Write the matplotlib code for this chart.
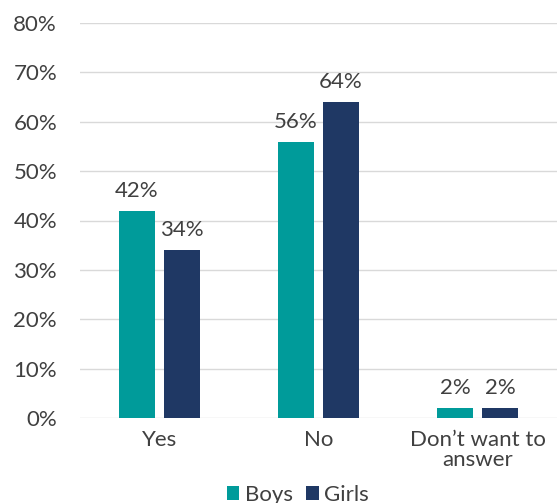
import matplotlib
matplotlib.use("Agg")
import matplotlib.pyplot as plt
import numpy as np

categories = ["Yes", "No", "Don\u2019t want to\nanswer"]
boys = [42, 56, 2]
girls = [34, 64, 2]
series_names = ["Boys", "Girls"]
yticks = [0, 10, 20, 30, 40, 50, 60, 70, 80]

teal = "#009B9A"
navy = "#1F3864"
txt = "#404040"
fs = 16

plt.rcParams['font.family'] = ['Lato', 'DejaVu Sans']

fig = plt.figure(figsize=(5.57, 5.03), dpi=100)
ax = fig.add_axes([80/557, 1-418/503, 1-80/557, (418-23)/503])

x = np.arange(len(categories))
w = 0.225
off = 0.142
b1 = ax.bar(x - off, boys, w, color=teal, label=series_names[0], zorder=3)
b2 = ax.bar(x + off, girls, w, color=navy, label=series_names[1], zorder=3)

for bars, vals in ((b1, boys), (b2, girls)):
    for r, v in zip(bars, vals):
        ax.text(r.get_x() + r.get_width()/2, v + 2.0, f"{v}%", ha="center", va="bottom",
                fontsize=fs, color=txt)

ax.set_xlim(-0.5, 2.5)
ax.set_ylim(0, 80)
ax.set_yticks(yticks)
ax.set_yticklabels([f"{t}%" for t in yticks], fontsize=fs, color=txt)
ax.set_xticks(x)
ax.set_xticklabels(categories, fontsize=fs, color=txt, linespacing=0.95)
ax.tick_params(length=0)
ax.tick_params(axis='x', pad=9)
ax.tick_params(axis='y', pad=16.5)
for s in ax.spines.values():
    s.set_visible(False)
ax.grid(axis='y', color="#D9D9D9", linewidth=1, zorder=0)
ax.set_axisbelow(True)

leg = fig.legend(handles=[b1, b2], labels=series_names, loc="center",
                 bbox_to_anchor=(298/557, 1-495/503), ncol=2, frameon=False, fontsize=fs,
                 handlelength=0.55, handleheight=0.55, handletextpad=0.25, columnspacing=0.6)
for t in leg.get_texts():
    t.set_color(txt)

fig.savefig("out.png", dpi=100)
